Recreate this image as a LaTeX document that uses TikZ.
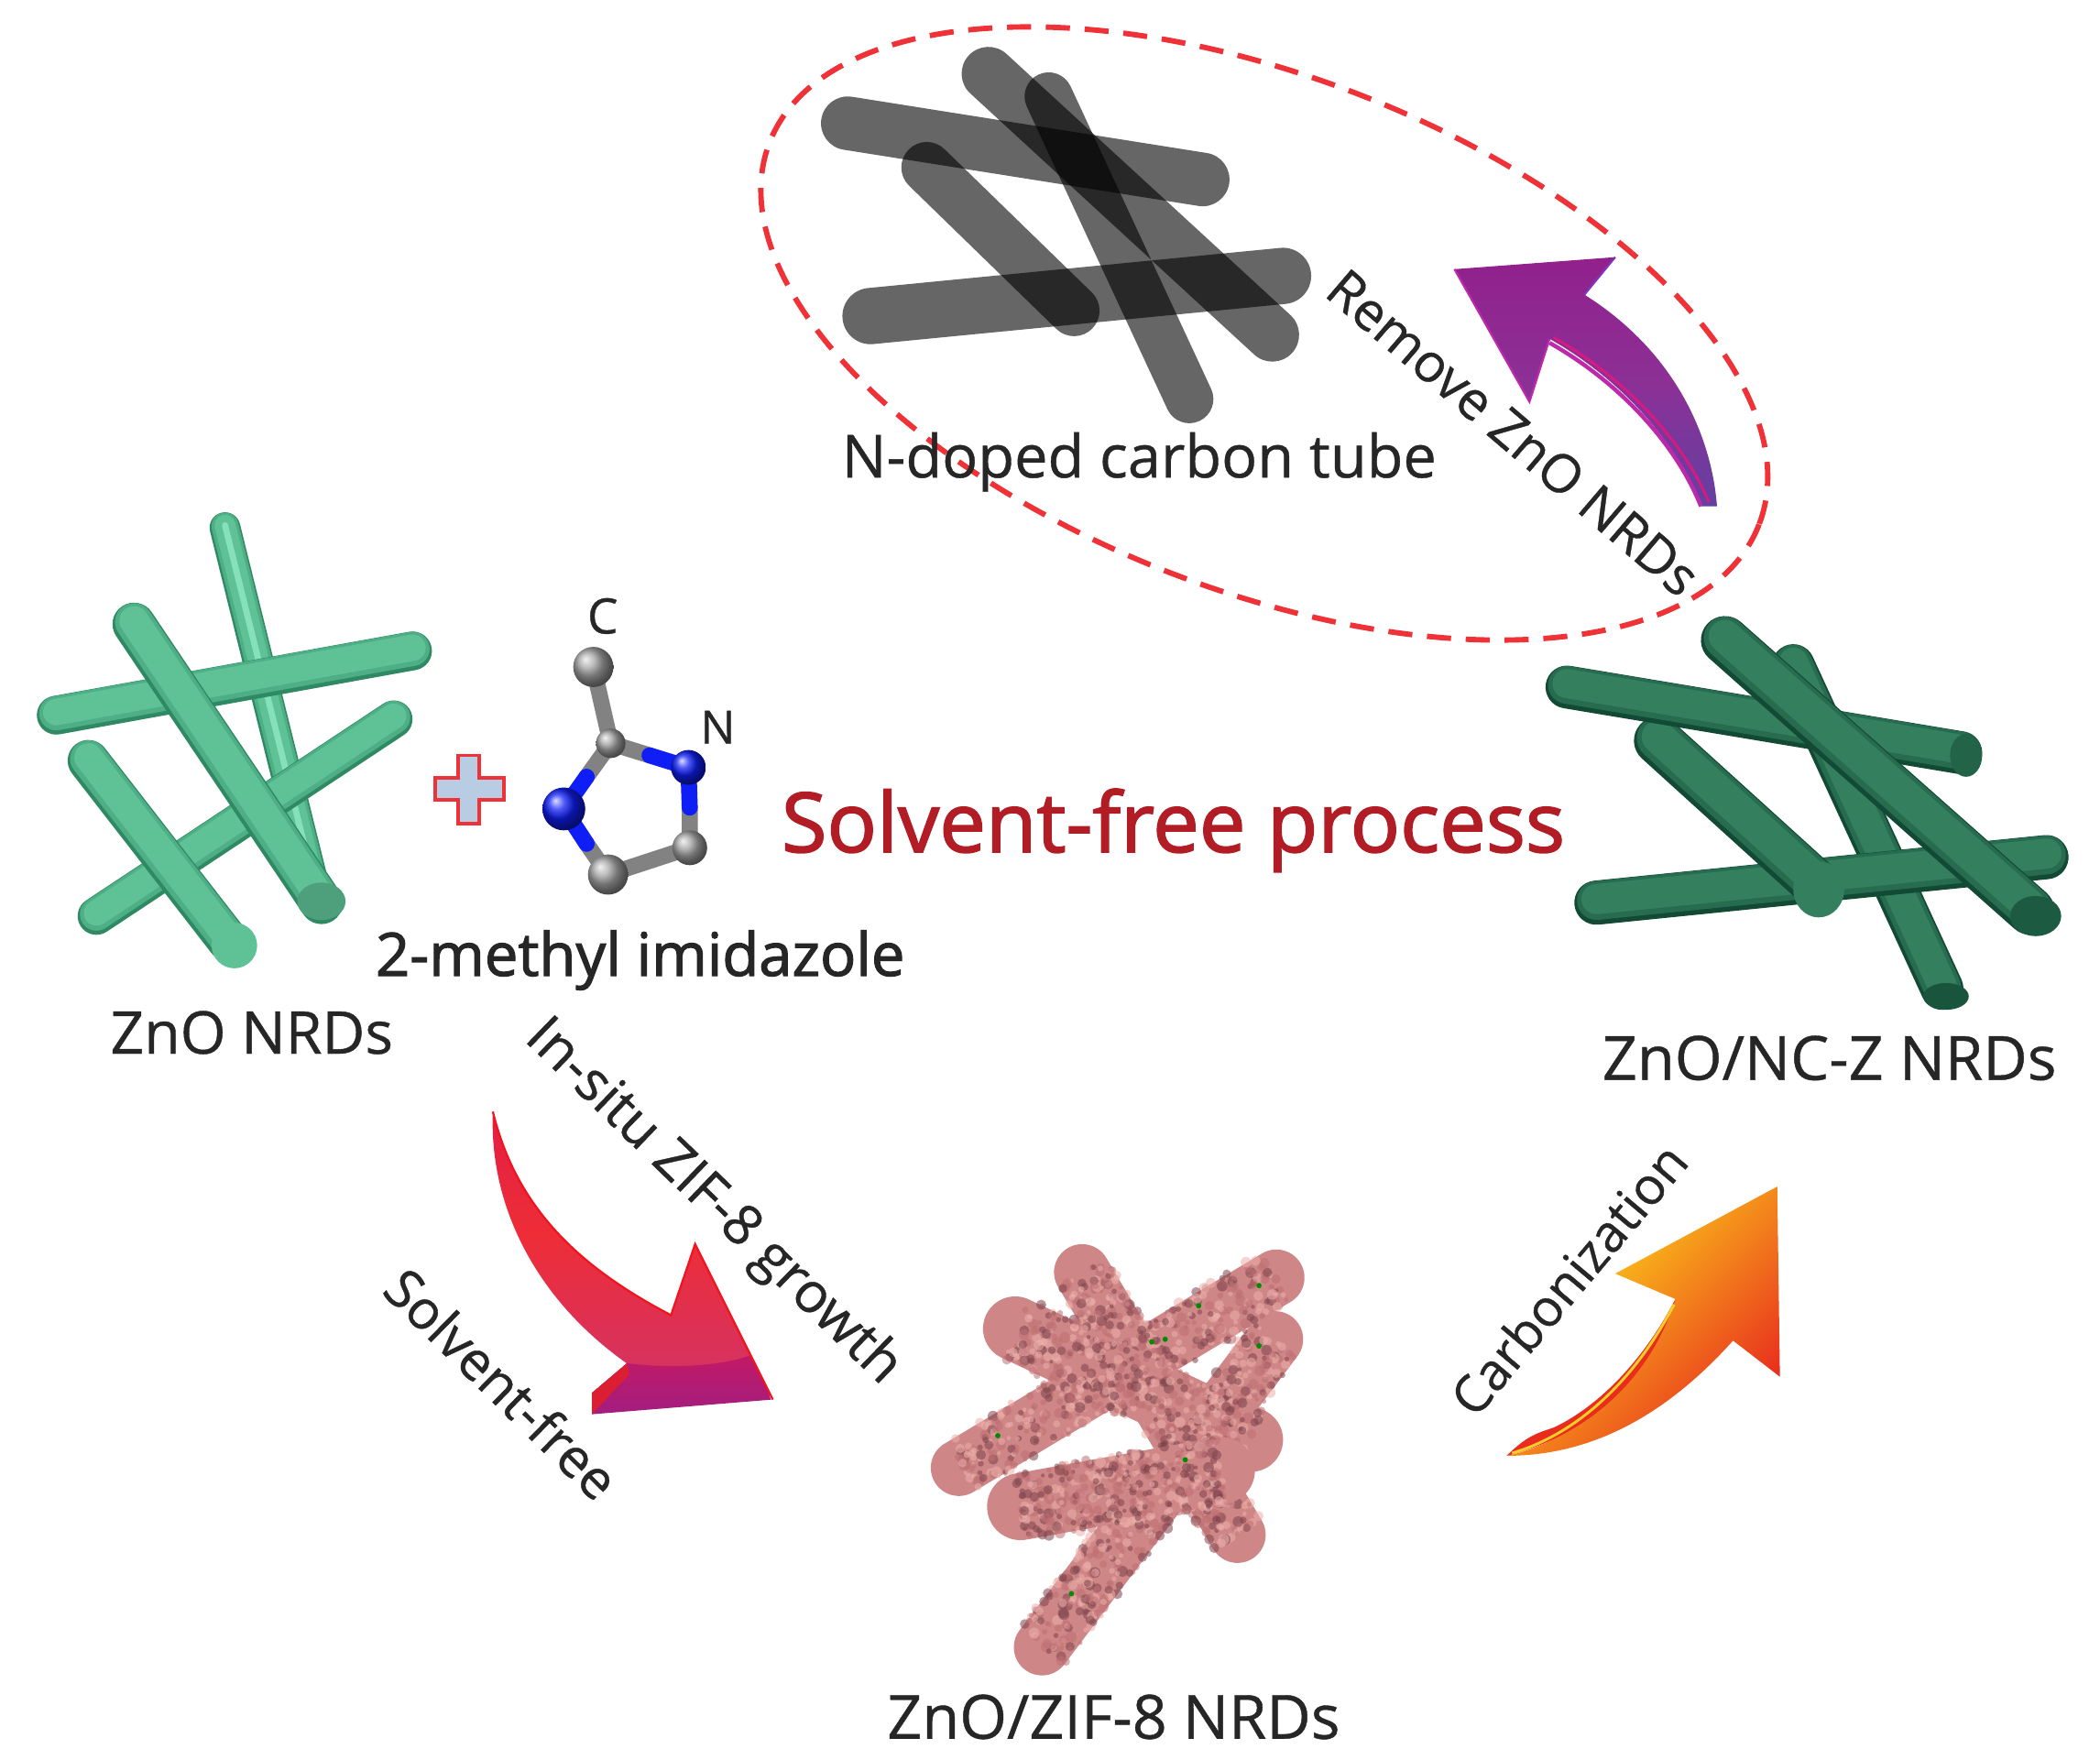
\documentclass[tikz,border=0pt]{standalone}
\usepackage{fontspec}
\setmainfont[FakeBold=0.6]{Open Sans}
\newfontfamily\semib[FakeBold=1.8]{Open Sans}
\usetikzlibrary{shapes.geometric}
\newlength\uu \setlength\uu{0.014617cm}
\definecolor{txt}{HTML}{262626}
\definecolor{solv}{HTML}{B21C24}
\definecolor{gA}{HTML}{5FC297}\definecolor{gAd}{HTML}{2F8A63}\definecolor{gAl}{HTML}{86E0BA}
\definecolor{gB}{HTML}{347F5E}\definecolor{gBd}{HTML}{124A35}
\definecolor{pk}{HTML}{CF8686}\definecolor{pkd}{HTML}{7E444C}\definecolor{pkl}{HTML}{EDB0AC}\definecolor{pkm}{HTML}{BE7073}
\definecolor{dashred}{RGB}{238,50,56}
\definecolor{plusfill}{RGB}{184,204,228}
\definecolor{nblue}{RGB}{15,30,245}
\definecolor{bondgray}{RGB}{130,130,130}
\definecolor{cball}{RGB}{165,165,165}
\definecolor{raA}{RGB}{225,30,70}\definecolor{raB}{RGB}{238,45,55}\definecolor{raC}{RGB}{215,50,95}
\definecolor{raD}{RGB}{195,25,100}\definecolor{raE}{RGB}{160,30,130}\definecolor{raF}{RGB}{240,20,30}\definecolor{raG}{RGB}{220,30,50}
\definecolor{paA}{RGB}{146,32,140}\definecolor{paB}{RGB}{140,48,150}\definecolor{paC}{RGB}{100,64,160}
\definecolor{paD}{RGB}{215,25,130}\definecolor{paE}{RGB}{190,40,170}\definecolor{paF}{RGB}{130,50,190}
\definecolor{oaA}{RGB}{255,232,25}\definecolor{oaB}{RGB}{247,148,30}\definecolor{oaC}{RGB}{232,45,30}\definecolor{oaD}{RGB}{250,205,40}
\tikzset{
  lab/.style={inner sep=0pt,text=txt,font=\normalfont},
  bondline/.style={line width=12\uu,line cap=round,color=#1},
}
% x1 y1 x2 y2 width base dark light
\newcommand\rodx[8]{%
  \draw[line cap=round,line width=#5*\uu,color=#7] (#1,#2)--(#3,#4);
  \draw[line cap=round,line width=.88*#5*\uu,color=#7!35!#6] ({#1},{#2-.05*#5})--({#3},{#4-.05*#5});
  \draw[line cap=round,line width=.68*#5*\uu,color=#6] ({#1},{#2-.08*#5})--({#3},{#4-.08*#5});
  \draw[line cap=round,line width=.2*#5*\uu,color=#8] ({#1},{#2-.08*#5})--({#3},{#4-.08*#5});
}
\newcommand\grayrod[5]{\draw[line cap=round,line width=#5*\uu,color=black,opacity=.6] (#1,#2)--(#3,#4);}
\newcommand\pinkrod[5]{%
  \draw[line cap=round,line width=#5*\uu,color=pk] (#1,#2)--(#3,#4);
  \foreach \i in {1,...,420}{%
    \pgfmathsetmacro\myt{rnd}\pgfmathsetmacro\mys{(rnd-.5)*1.04*#5}%
    \pgfmathsetmacro\myd{veclen(#3-#1,#4-#2)}%
    \pgfmathsetmacro\myx{#1+(#3-#1)*\myt-(#4-#2)/\myd*\mys}%
    \pgfmathsetmacro\myy{#2+(#4-#2)*\myt+(#3-#1)/\myd*\mys}%
    \pgfmathsetmacro\myr{1.5+2.6*rnd}%
    \pgfmathsetmacro\myc{rnd}%
    \ifdim\myc pt<.3pt \def\mycol{pkd}\else\ifdim\myc pt<.62pt \def\mycol{pkl}\else\def\mycol{pkm}\fi\fi
    \fill[color=\mycol,opacity=.55] (\myx,\myy) circle[radius=\myr];
  }%
}
\begin{document}
\begin{tikzpicture}[x=0.014617cm,y=-0.014617cm]
\useasboundingbox (0,0) rectangle (1568,1313.5);
\fill[white] (0,0) rectangle (1568,1313.5);
\pgfmathsetseed{4242}

% ---- N-doped carbon tube rods
\grayrod{633}{92}{898}{134}{40}
\grayrod{738}{55}{950}{250}{40}
\grayrod{783}{72}{888}{298}{36}
\grayrod{692}{125}{802}{232}{38}
\grayrod{650}{236}{958}{206}{42}

% ---- dashed ellipse
\draw[color=dashred,line width=4\uu,dash pattern=on 18\uu off 11\uu,rotate around={-21.1:(944,249)}]
  (944,249) ellipse [x radius=396,y radius=192];

% ---- ZnO NRDs rods
\rodx{168}{394}{234}{660}{23}{gA}{gAd}{gAl}
\rodx{294}{537}{72}{684}{28}{gA}{gAd}{gA}
\rodx{42}{534}{308}{486}{29}{gA}{gAd}{gA}
\rodx{100}{466}{240}{674}{32}{gA}{gAd}{gA}
\fill[gA!82!black] (240,673) ellipse [x radius=18,y radius=14];
\rodx{66}{568}{170}{702}{31}{gA}{gAd}{gA}
\fill[gA] (175,706) ellipse [x radius=17,y radius=17];

% plus
\draw[line width=2.6\uu,color=dashred,fill=plusfill,line join=miter]
 (342,564)--(358,564)--(358,581)--(376,581)--(376,597)--(358,597)--(358,615)--(342,615)--(342,597)--(325,597)--(325,581)--(342,581)--cycle;

% ---- molecule
\coordinate (c1) at (443,498);
\coordinate (c2) at (456,555);
\coordinate (n1) at (514,573);
\coordinate (c3) at (515,633);
\coordinate (c4) at (454,653);
\coordinate (n2) at (421,604);
\coordinate (m1) at (485,564);
\coordinate (m2) at (515,603);
\coordinate (m3) at (438,630);
\coordinate (m4) at (438,580);
\draw[bondline=bondgray] (c1)--(c2) (c2)--(m1) (m2)--(c3)--(c4)--(m3) (m4)--(c2);
\draw[bondline=nblue] (m1)--(n1)--(m2) (m3)--(n2)--(m4);
\shade[shading=ball,ball color=cball] (c1) circle[radius=15];
\shade[shading=ball,ball color=cball] (c2) circle[radius=11];
\shade[shading=ball,ball color=cball] (c3) circle[radius=13];
\shade[shading=ball,ball color=cball] (c4) circle[radius=15];
\shade[shading=ball,ball color=nblue] (n1) circle[radius=13];
\shade[shading=ball,ball color=nblue] (n2) circle[radius=16];
\node[lab] (lc) at (450,460) {\resizebox{23\uu}{!}{C}};
\node[lab] (ln) at (536,543) {\resizebox{26\uu}{!}{N}};

% ---- dark rods ZnO/NC-Z
\rodx{1339}{497}{1450}{738}{32}{gB}{gBd}{gB}
\fill[gBd!80!gB] (1453,744) ellipse [x radius=17,y radius=10];
\rodx{1192}{674}{1528}{640}{33}{gB}{gBd}{gB}
\rodx{1238}{553}{1356}{660}{36}{gB}{gBd}{gB}
\rodx{1170}{513}{1464}{562}{32}{gB}{gBd}{gB}
\fill[gBd!50!gB] (1468,564) ellipse [x radius=12,y radius=16];
\fill[gB] (1358,664) ellipse [x radius=19,y radius=21];
\rodx{1288}{478}{1516}{680}{36}{gB}{gBd}{gB}
\fill[gBd!70!gB] (1520,684) ellipse [x radius=19,y radius=15];

% ---- pink rods
\pinkrod{778}{1230}{952}{1000}{42}
\pinkrod{716}{1096}{953}{954}{42}
\pinkrod{808}{950}{924}{1146}{42}
\pinkrod{758}{992}{934}{1075}{48}
\pinkrod{762}{1125}{912}{1098}{50}
\foreach \gx/\gy in {745/1072,870/1000,895/975,940/960,800/1190,940/1005,860/1002,885/1090}
  \fill[green!55!black] (\gx,\gy) circle[radius=2];

% ---- red arrow
\begin{scope}
\path[clip] (368,830) .. controls (385,900) and (430,945) .. (501,982) -- (519,929) -- (577,1045) -- (442,1056) -- (442,1040) -- (468,1018) .. controls (400,970) and (365,900) .. (368,830) -- cycle;
\shade[top color=raA,bottom color=raC,middle color=raB] (360,825) rectangle (580,1020);
\shade[top color=raD,bottom color=raE] (440,1012) .. controls (480,1024) and (540,1022) .. (565,1010) -- (580,1060) -- (440,1060) -- cycle;
\end{scope}
\draw[line width=1.5\uu,color=raF,line join=miter] (368,830) .. controls (385,900) and (430,945) .. (501,982) -- (519,929) -- (577,1045);
\fill[color=raG] (442,1056)--(442,1040)--(468,1018)--(470,1026)--cycle;

% ---- purple arrow
\shade[top color=paA,bottom color=paC,middle color=paB]
 (1282,378) .. controls (1278,325) and (1250,262) .. (1183,220) -- (1206,192) -- (1086,201) -- (1142,300) -- (1157,253) .. controls (1205,280) and (1250,325) .. (1270,378) -- cycle;
\draw[line width=3\uu,color=paE] (1157,256) .. controls (1205,283) and (1250,328) .. (1270,378);
\draw[line width=2\uu,color=paD] (1160,252) .. controls (1208,279) and (1255,325) .. (1276,375);
\draw[line width=1.5\uu,color=paE] (1086,201) -- (1142,300) -- (1157,253);
\draw[line width=1.5\uu,color=paF] (1183,220) -- (1206,192);

% ---- orange arrow
\shade[top color=oaA,middle color=oaB,bottom color=oaC,shading angle=45]
 (1125,1087) .. controls (1185,1075) and (1225,1020) .. (1251,970) -- (1206,951) -- (1327,886) -- (1329,1028) -- (1294,1001) .. controls (1250,1050) and (1195,1087) .. (1125,1087) -- cycle;
\fill[color=oaC] (1125,1087) .. controls (1140,1072) and (1148,1070) .. (1160,1066) .. controls (1190,1052) and (1225,1020) .. (1251,970) .. controls (1232,1030) and (1185,1072) .. (1125,1087) -- cycle;
\draw[line width=2\uu,color=oaD] (1129,1085) .. controls (1180,1070) and (1222,1028) .. (1250,974);

% ---- labels
\node[lab,anchor=west] (t1) at (628,345) {\resizebox{444\uu}{!}{N-doped carbon tube}};
\node[lab,anchor=west] (t2) at (280,717) {\resizebox{395\uu}{!}{\semib 2-methyl imidazole}};
\node[lab,anchor=west] (t3) at (82,771) {\resizebox{211\uu}{!}{ZnO NRDs}};
\node[lab,anchor=west] (t4) at (1196,790) {\resizebox{339\uu}{!}{ZnO/NC-Z NRDs}};
\node[lab,anchor=west] (t5) at (662,1282) {\resizebox{338\uu}{!}{ZnO/ZIF-8 NRDs}};
\node[inner sep=0pt,anchor=west,text=solv] (t6) at (583,620) {\resizebox{585\uu}{!}{\semib Solvent-free process}};
\node[lab,rotate=-40.5] (t7) at (1130,323) {\resizebox{350\uu}{!}{Remove ZnO NRDs}};
\node[lab,rotate=-44] (t8) at (532,898) {\resizebox{372\uu}{!}{In-situ ZIF-8 growth}};
\node[lab,rotate=-44.5] (t9) at (375,1033) {\resizebox{225\uu}{!}{Solvent-free}};
\node[lab,rotate=50] (t10) at (1171,955) {\resizebox{250\uu}{!}{Carbonization}};
\end{tikzpicture}
\end{document}
